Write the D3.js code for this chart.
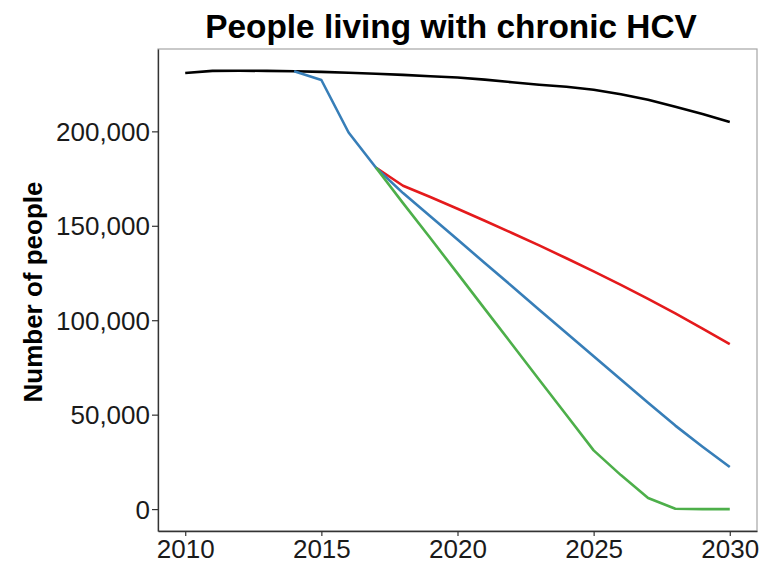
<!DOCTYPE html>
<html>
<head>
<meta charset="utf-8">
<script src="https://cdn.jsdelivr.net/npm/d3@7"></script>
<style>
  html, body { margin: 0; padding: 0; background: #fff; }
  svg { display: block; font-family: "Liberation Sans", Arial, sans-serif; }
</style>
</head>
<body>
<svg id="chart" width="759" height="562"></svg>
<script>
// Years shown on the x axis
const years = d3.range(2010, 2031);
const xTicks = [2010, 2015, 2020, 2025, 2030];
const yTicks = [0, 50000, 100000, 150000, 200000];

// Status quo projection
const statusQuoYears = years;
const statusQuo = [230900, 232000, 232100, 232000, 231800, 231500, 231000, 230500, 229900, 229200,
                   228500, 227400, 226000, 224700, 223600, 222000, 219600, 216700, 213000, 209200, 205000];

// Scale-up scenario (blue)
const blueYears = d3.range(2014, 2031);
const blueValues = [231800, 227200, 199400, 180850, 167300, 155000, 142700, 130300, 118000, 105600,
                    93200, 80900, 68600, 56300, 44200, 33000, 22300];

// Slower scenario (red)
const redYears = d3.range(2017, 2031);
const redValues = [180850, 171200, 165200, 159000, 152700, 146200, 139600, 132800, 125900, 118700,
                   111300, 103600, 95600, 87400];

// Elimination scenario (green)
const greenYears = d3.range(2017, 2031);
const greenValues = [180850, 162000, 143500, 124800, 106000, 87300, 68500, 49800, 31100, 18000,
                     5900, 200, 0, 0];

const series = [
  { years: statusQuoYears, values: statusQuo, color: "#000000" },
  { years: redYears, values: redValues, color: "#E41A1C" },
  { years: blueYears, values: blueValues, color: "#377EB8" },
  { years: greenYears, values: greenValues, color: "#4DAF4A" }
];

const svg = d3.select("#chart");
const panel = { left: 158, right: 757, top: 49, bottom: 531 };

const x = d3.scaleLinear().domain([2009, 2031]).range([panel.left, panel.right]);
const y = d3.scaleLinear().domain([-11600, 243600]).range([panel.bottom, panel.top]);

// Panel border
svg.append("rect")
  .attr("x", panel.left).attr("y", panel.top)
  .attr("width", panel.right - panel.left).attr("height", panel.bottom - panel.top)
  .attr("fill", "none").attr("stroke", "#a6a6a6").attr("stroke-width", 1.2);

// Lines
const line = d3.line()
  .x(d => x(d[0]))
  .y(d => y(d[1]));

series.forEach(s => {
  svg.append("path")
    .datum(s.years.map((yr, i) => [yr, s.values[i]]))
    .attr("d", line)
    .attr("fill", "none")
    .attr("stroke", s.color)
    .attr("stroke-width", 2.6)
    .attr("stroke-linejoin", "round");
});

// Axes
const fmt = d3.format(",");
const xAxis = d3.axisBottom(x).tickValues(xTicks).tickFormat(d3.format("d"))
  .tickSizeInner(5).tickSizeOuter(0);
const yAxis = d3.axisLeft(y).tickValues(yTicks).tickFormat(fmt)
  .tickSizeInner(6).tickSizeOuter(0);

const gx = svg.append("g").attr("transform", `translate(0,${panel.bottom})`).call(xAxis);
const gy = svg.append("g").attr("transform", `translate(${panel.left},0)`).call(yAxis);

[gx, gy].forEach(g => {
  g.select(".domain").attr("stroke", "#333").attr("stroke-width", 1.3);
  g.selectAll(".tick line").attr("stroke", "#333").attr("stroke-width", 1.2);
  g.selectAll(".tick text")
    .attr("fill", "#1a1a1a")
    .style("font-family", "'Liberation Sans', Arial, sans-serif")
    .style("font-size", "26px");
});
gx.selectAll(".tick text").attr("y", 27).attr("dy", 0);
gy.selectAll(".tick text").attr("x", -8).attr("dy", "0.35em");

// Title
svg.append("text")
  .attr("x", 451).attr("y", 38)
  .attr("text-anchor", "middle")
  .style("font-size", "33.4px").style("font-weight", "bold")
  .attr("fill", "#000")
  .text("People living with chronic HCV");

// Y axis label
svg.append("text")
  .attr("transform", "translate(41.5,292) rotate(-90)")
  .attr("text-anchor", "middle")
  .style("font-size", "26px").style("font-weight", "bold")
  .attr("fill", "#000")
  .text("Number of people");
</script>
</body>
</html>
